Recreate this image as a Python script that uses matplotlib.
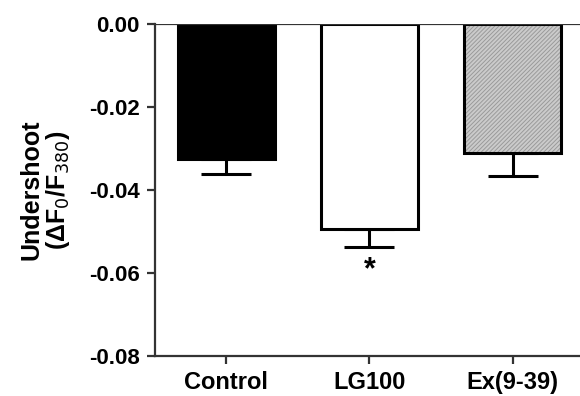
import numpy as np
import matplotlib
matplotlib.use("Agg")
import matplotlib.pyplot as plt

plt.rcParams['font.family'] = ['Liberation Sans', 'DejaVu Sans']
plt.rcParams['hatch.linewidth'] = 0.7

# data
groups = ['Control', 'LG100', 'Ex(9-39)']
undershoot = [-0.0325, -0.0494, -0.0311]
sem = [0.0036, 0.0043, 0.0055]
yticks = [0.00, -0.02, -0.04, -0.06, -0.08]

fig = plt.figure(figsize=(5.8, 3.96), dpi=100)
ax = fig.add_axes([0.267, 0.101, 0.74, 0.838])

x = np.arange(len(groups))
w = 0.68

# Control: black, LG100: white, Ex: hatched grey
ax.bar(x[0], undershoot[0], w, color='black', edgecolor='black', linewidth=2.2, zorder=2)
ax.bar(x[1], undershoot[1], w, color='white', edgecolor='black', linewidth=2.2, zorder=2)
ax.bar(x[2], undershoot[2], w, color='#cbcbcb', edgecolor='#9a9a9a', hatch='////////',
       linewidth=0, zorder=2)
ax.bar(x[2], undershoot[2], w, fill=False, edgecolor='black', linewidth=2.2, zorder=3)

# error bars only going down
ax.errorbar(x, undershoot, yerr=[sem, np.zeros(len(sem))], fmt='none',
            ecolor='black', elinewidth=2.2, capsize=18, capthick=2.2, zorder=1)

ax.axhline(0, color='#333333', linewidth=1.6, zorder=4)

# significance mark
ax.text(x[1], -0.0586, '*', ha='center', va='center_baseline',
        fontsize=22, fontweight='bold')

ax.set_xlim(-0.5, 2.5)
ax.set_ylim(-0.08, 0.0)
ax.set_yticks(yticks)
ax.set_yticklabels(['%.2f' % v for v in yticks], fontsize=16, fontweight='bold')
ax.set_xticks(x)
ax.set_xticklabels(groups, fontsize=17, fontweight='bold')

for s in ['top', 'right']:
    ax.spines[s].set_visible(False)
for s in ['left', 'bottom']:
    ax.spines[s].set_linewidth(1.6)
    ax.spines[s].set_color('#333333')
ax.tick_params(axis='both', length=6, width=1.6, color='#333333')
ax.tick_params(axis='y', pad=5)
ax.tick_params(axis='x', pad=5)

ax.set_ylabel('Undershoot\n(ΔF$_0$/F$_{380}$)', fontsize=18,
              fontweight='bold', linespacing=1.05, labelpad=12)

fig.savefig('out.png', dpi=100)
